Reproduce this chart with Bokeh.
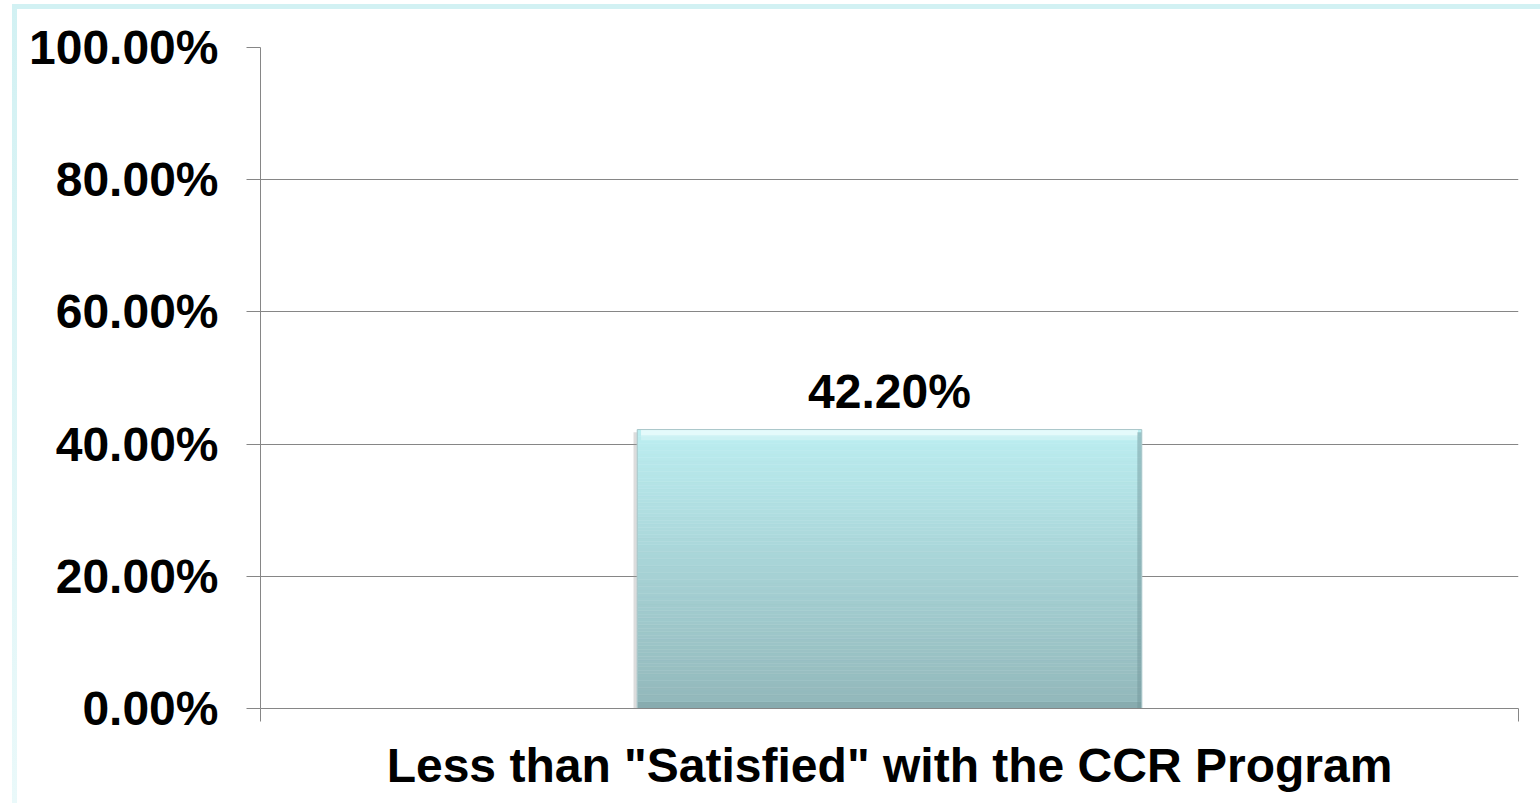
import numpy as np
from bokeh.plotting import figure
from bokeh.models import (Range1d, LinearAxis, FixedTicker, NumeralTickFormatter,
                          ColumnDataSource)
from bokeh.core.properties import value
from bokeh.embed import file_html
from bokeh.resources import INLINE

# Survey result
categories = ['Less than "Satisfied" with the CCR Program']
shares = [0.422]
bar_labels = ["42.20%"]
y_ticks = [0.0, 0.2, 0.4, 0.6, 0.8, 1.0]

FONT = "Liberation Sans"
GRID = "#868686"

n_cat = len(categories)
centers = [i + 0.5 for i in range(n_cat)]
boundaries = list(range(n_cat + 1))

p = figure(width=1540, height=803, output_backend="svg", toolbar_location=None,
           x_range=Range1d(0, n_cat), y_range=Range1d(0, 1),
           x_axis_location=None, y_axis_location=None,
           min_border_left=260, min_border_right=22,
           min_border_top=47, min_border_bottom=95)
p.border_fill_color = None
p.background_fill_color = "white"
p.outline_line_color = None
p.styles = {
    "background": (
        "linear-gradient(#d2f1f3, #eaf9fa) 12px 4px / 5px 799px no-repeat, "
        "linear-gradient(#d2f1f3, #d2f1f3) 12px 4px / 1528px 5px no-repeat, white"
    )
}

# Ticks on category boundaries
edge_axis = LinearAxis(ticker=FixedTicker(ticks=boundaries),
                       major_label_overrides={b: "" for b in boundaries},
                       major_label_text_font_size="1px", major_label_standoff=0,
                       major_tick_in=0, major_tick_out=13, minor_tick_out=0, minor_tick_in=0,
                       axis_line_color=GRID, major_tick_line_color=GRID)
p.add_layout(edge_axis, "below")

# Category names at category centres
cat_axis = LinearAxis(ticker=FixedTicker(ticks=centers),
                      major_label_overrides={c: name for c, name in zip(centers, categories)},
                      axis_line_color=None, major_tick_line_color=None,
                      minor_tick_line_color=None,
                      major_label_standoff=11,
                      major_label_text_font=FONT, major_label_text_font_size="48px",
                      major_label_text_font_style="bold", major_label_text_color="black")
p.add_layout(cat_axis, "below")

y_axis = LinearAxis(ticker=FixedTicker(ticks=y_ticks),
                    formatter=NumeralTickFormatter(format="0.00%"),
                    major_tick_in=0, major_tick_out=14, minor_tick_out=0, minor_tick_in=0,
                    axis_line_color=GRID, major_tick_line_color=GRID,
                    major_label_standoff=28,
                    major_label_text_font=FONT, major_label_text_font_size="48px",
                    major_label_text_font_style="bold", major_label_text_color="black")
p.add_layout(y_axis, "left")

p.ygrid.ticker = FixedTicker(ticks=y_ticks)
p.ygrid.grid_line_color = GRID
p.ygrid.grid_line_width = 1
p.xgrid.grid_line_color = None

# Bar with vertical shading from pale cyan (top) to grey teal (bottom)
BAR_W = 0.401
top_rgb = np.array([0xbc, 0xee, 0xf1])
bot_rgb = np.array([0x92, 0xb7, 0xba])
n_bands = 80
for c, v in zip(centers, shares):
    l, r = c - BAR_W / 2, c + BAR_W / 2
    # soft shadow along the left side
    p.quad(left=[l - 0.003], right=[l], bottom=[0], top=[v - 0.004],
           fill_color="#9a9a9a", fill_alpha=0.35, line_color=None)
    edges = np.linspace(0, v, n_bands + 1)
    colors = []
    for i in range(n_bands):
        t = (i + 0.5) / n_bands
        rgb = bot_rgb + (top_rgb - bot_rgb) * t
        colors.append("#%02x%02x%02x" % tuple(int(round(x)) for x in rgb))
    src = ColumnDataSource(dict(left=[l] * n_bands, right=[r] * n_bands,
                                bottom=edges[:-1], top=edges[1:], color=colors))
    p.quad(left="left", right="right", bottom="bottom", top="top", source=src,
           fill_color="color", line_color="color", line_width=0.5)
    # bevel: light top rim, darker right and bottom rims
    p.quad(left=[l + 0.003], right=[r - 0.003], bottom=[v - 0.009], top=[v],
           fill_color="#f2fdfd", fill_alpha=0.75, line_color=None)
    p.quad(left=[l + 0.003], right=[r - 0.003], bottom=[v - 0.016], top=[v - 0.009],
           fill_color="#f2fdfd", fill_alpha=0.3, line_color=None)
    p.quad(left=[r - 0.0035], right=[r], bottom=[0], top=[v - 0.004],
           fill_color="#6f9296", fill_alpha=0.45, line_color=None)
    p.quad(left=[l], right=[r], bottom=[0], top=[0.01],
           fill_color="#6f9296", fill_alpha=0.3, line_color=None)
    p.quad(left=[l], right=[r], bottom=[0], top=[v],
           fill_color=None, line_color="#a9c6c9", line_width=1)

# Value label above the bar
p.text(x=centers, y=shares, text=bar_labels, text_font=value(FONT),
       text_font_size="48px", text_font_style="bold", text_color="black",
       text_align="center", text_baseline="bottom", y_offset=-12)

open("out.html", "w").write(file_html(p, INLINE))
